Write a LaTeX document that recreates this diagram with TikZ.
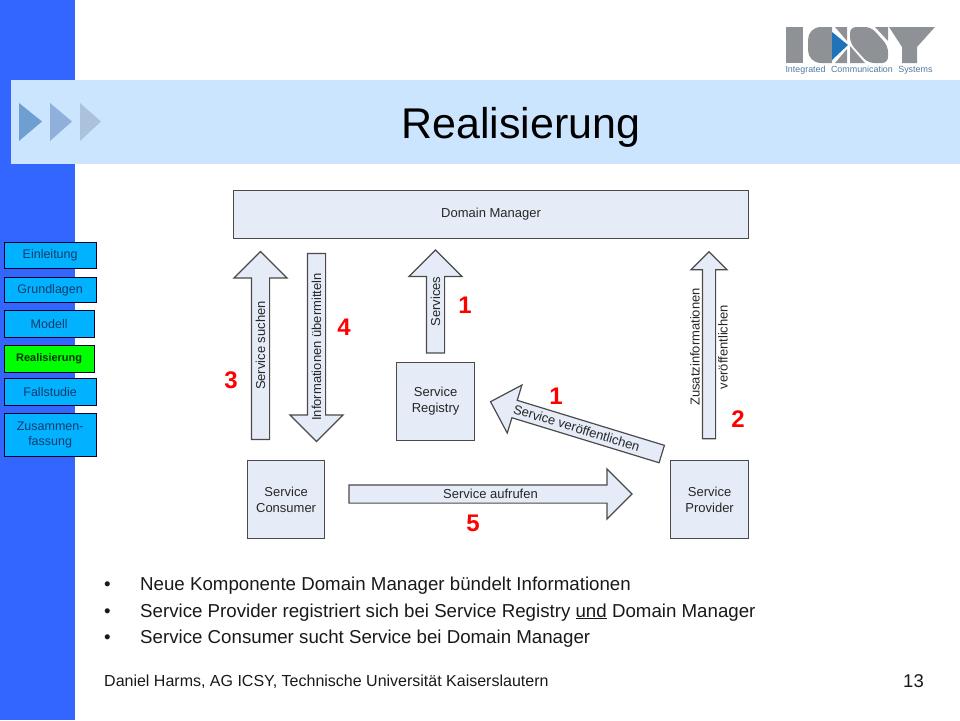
\documentclass[tikz,border=0pt]{standalone}
\usepackage{fontspec}
\setmainfont{Liberation Sans}
\usetikzlibrary{shapes.arrows}
\newcommand{\pxfont}[1]{\fontsize{#1}{#1}\selectfont}
\definecolor{sidebar}{HTML}{3366FF}
\definecolor{titleband}{HTML}{CCE5FF}
\definecolor{navblue}{HTML}{00B2FF}
\definecolor{navtext}{HTML}{123A6B}
\definecolor{boxfill}{HTML}{E6ECF7}
\definecolor{boxline}{HTML}{4A4A4A}
\definecolor{logogray}{HTML}{8E9296}
\definecolor{logoblue}{HTML}{1E73B9}
\definecolor{logotext}{HTML}{4F7A9E}
\definecolor{triA}{HTML}{6F9FD0}
\definecolor{triB}{HTML}{8FB0DA}
\definecolor{triC}{HTML}{ABC2DC}
\tikzset{
    navnode/.style={
        rectangle,
        draw=black!85!blue,
        fill=navblue,
        thick,
        anchor=north west,
        inner sep=0,
        align=center,
        text=navtext,
        font=\pxfont{12.5}
    },
    bluebox/.style={
        rectangle,
        draw=boxline,
        fill=boxfill,
        line width=1.2pt,
        anchor=north west,
        inner sep=0,
        align=center,
        text=black!85,
        font=\pxfont{13}
    },
    blockarrow/.style={
        single arrow,
        draw=boxline,
        fill=boxfill,
        line width=1.2pt,
        inner xsep=0,
        inner ysep=2pt,
        text height=11pt,
        text depth=2pt,
        text=black!85,
        single arrow head extend=17.5pt,
        minimum width=52pt,
        font=\pxfont{13}
    },
    numnode/.style={
        text=red,
        inner sep=0,
        font=\bfseries\pxfont{24}
    },
    bulletnode/.style={
        anchor=base west,
        inner sep=0,
        text=black!90,
        font=\pxfont{18.7}
    }
}
\begin{document}
\begin{tikzpicture}[x=1pt,y=-1pt]
    \useasboundingbox (0,0) rectangle (960,720);
    % Hintergrund
    \fill[sidebar] (0,0) rectangle (75,720);
    \fill[titleband] (11,80) rectangle (960,164);
    \fill[triA] (19,103) -- (42,121.5) -- (19,141) -- cycle;
    \fill[triB] (50,103) -- (72,121.5) -- (50,141) -- cycle;
    \fill[triC] (80,103) -- (101,121.5) -- (80,141) -- cycle;
    \node[inner sep=0,font=\pxfont{43}] (title) at (521,127) {Realisierung};
    % Logo
    \fill[logogray] (786,27) rectangle (803,63);
    \fill[logogray] (821,27) -- (832,27) -- (832,63) -- (821,63)
        .. controls (813,63) and (808,57) .. (808,50) -- (808,40)
        .. controls (808,33) and (813,27) .. (821,27) -- cycle;
    \fill[logogray] (835,27) -- (847,27) -- (847,41) -- cycle;
    \fill[logogray] (835,63) -- (847,63) -- (847,49) -- cycle;
    \fill[logoblue] (832,32) -- (848,45) -- (832,60) -- cycle;
    \fill[logogray,rounded corners=6pt] (850,27) -- (871,27) -- (888,46) -- (888,63) -- (868,63) -- (850,43) -- cycle;
    \fill[logogray] (850,46) -- (850,63) -- (865,63) -- cycle;
    \fill[logogray] (875,27) -- (888,27) -- (888,41) -- cycle;
    \fill[logogray] (889,27) -- (935,27) -- (917,47) -- (917,63) -- (902,63) -- (902,47) -- cycle;
    \node[inner sep=0,text=logotext,font=\pxfont{8.9}] (logotext) at (859,70.5) {Integrated\hspace{3pt} Communication\hspace{3pt} Systems};
    % Navigation
    \node[navnode,minimum width=91.5pt,minimum height=26pt] (einleitung) at (4,242) {Einleitung};
    \node[navnode,minimum width=91.5pt,minimum height=25pt] (grundlagen) at (4,277) {Grundlagen};
    \node[navnode,minimum width=89.5pt,minimum height=27pt] (modell) at (4,310) {Modell};
    \node[navnode,minimum width=89.5pt,minimum height=27pt,fill=green,text=black!80!green,font=\bfseries\pxfont{11}] (realisierung) at (4,345) {Realisierung};
    \node[navnode,minimum width=91.5pt,minimum height=27pt] (fallstudie) at (4,378) {Fallstudie};
    \node[navnode,minimum width=91.5pt,minimum height=43pt] (zusammen) at (4,413) {Zusammen-\\[3pt]fassung};
    % Kaesten
    \node[bluebox,minimum width=515pt,minimum height=48pt] (domain) at (233,190) {Domain Manager};
    \node[bluebox,minimum width=78pt,minimum height=78pt] (registry) at (396,362) {Service\\[3pt]Registry};
    \node[bluebox,minimum width=77pt,minimum height=78pt] (consumer) at (247,460) {Service\\[3pt]Consumer};
    \node[bluebox,minimum width=78pt,minimum height=78pt] (provider) at (670,460) {Service\\[3pt]Provider};
    % Pfeile
    \node[blockarrow,rotate=90,minimum height=188pt] (suchen) at (260.5,350) {\hspace*{9pt}Service suchen};
    \node[blockarrow,rotate=90,shape border rotate=180,minimum height=188pt] (uebermitteln) at (316.5,343) {Informationen übermitteln\hspace*{8pt}};
    \node[blockarrow,rotate=90,minimum height=103pt] (services) at (435.5,306) {\hspace*{9pt}Services};
    \node[blockarrow,rotate=90,minimum height=187pt,minimum width=35pt,text height=4pt,text depth=4pt,single arrow head extend=11.5pt] (zusatz) at (709,348.5) {};
    \node[rotate=90,inner sep=0,align=center,font=\pxfont{13},text=black!85] (zusatztext) at (709,347) {Zusatzinformationen\\[15pt]veröffentlichen};
    \node[blockarrow,minimum height=283pt,minimum width=49pt,single arrow head extend=16pt] (aufrufen) at (486,494) {\hspace*{9pt}Service aufrufen};
    \node[blockarrow,rotate=-17,shape border rotate=180,minimum height=179pt,minimum width=50pt,single arrow head extend=16pt] (veroeffentlichen) at (580.5,429.2) {Service veröffentlichen\hspace*{8pt}};
    % Nummern
    \node[numnode] (num1a) at (465,305) {1};
    \node[numnode] (num4) at (344,327) {4};
    \node[numnode] (num3) at (231,380) {3};
    \node[numnode] (num1b) at (556,396) {1};
    \node[numnode] (num2) at (738,419) {2};
    \node[numnode] (num5) at (473,523) {5};
    % Text unten
    \node[bulletnode] (bullet1) at (104,590) {•};
    \node[bulletnode] (text1) at (140,590) {Neue Komponente Domain Manager bündelt Informationen};
    \node[bulletnode] (bullet2) at (104,617) {•};
    \node[bulletnode] (text2) at (140,617) {Service Provider registriert sich bei Service Registry \underline{und} Domain Manager};
    \node[bulletnode] (bullet3) at (104,643) {•};
    \node[bulletnode] (text3) at (140,643) {Service Consumer sucht Service bei Domain Manager};
    \node[bulletnode,font=\pxfont{16}] (footer) at (104,686) {Daniel Harms, AG ICSY, Technische Universität Kaiserslautern};
    \node[bulletnode,font=\pxfont{18.5}] (pagenum) at (903,687) {13};
\end{tikzpicture}
\end{document}
